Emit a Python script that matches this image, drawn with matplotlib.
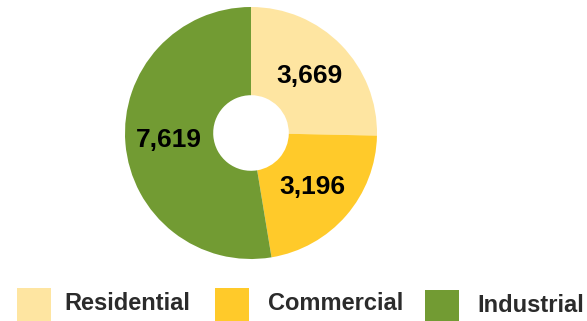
import matplotlib.pyplot as plt
from matplotlib.patches import Rectangle

# Dados do gráfico
categorias = ['Residential', 'Commercial', 'Industrial']
valores = [3669, 3196, 7619]
cores = ['#FEE5A1', '#FFCA2A', '#729B33']

plt.rcParams['font.family'] = ['Liberation Sans', 'DejaVu Sans']

W, H = 587, 321
fig = plt.figure(figsize=(W / 100, H / 100), dpi=100)

# Rosca: centro ~ (251, 133) px, raio ~126 px
cx, cy, r = 251, 133, 126
ax = fig.add_axes([(cx - r) / W, (H - cy - r) / H, 2 * r / W, 2 * r / H])

total = sum(valores)
wedges, textos, rotulos = ax.pie(
    valores, colors=cores, startangle=90, counterclock=False,
    radius=1, wedgeprops=dict(width=0.70, linewidth=0),
    autopct=lambda p: f'{round(p * total / 100):,}', pctdistance=0.65,
    textprops=dict(fontsize=19, fontweight='bold', color='black'))
ax.set_xlim(-1, 1)
ax.set_ylim(-1, 1)
ax.set_aspect('equal')

# Legenda manual embaixo (posições em pixels)
quadrados = [(17, 288), (215, 288), (425, 290)]
textos_x = [64, 268, 477]
bases_y = [310, 310, 312]
for cat, cor, (qx, qy), tx, by in zip(categorias, cores, quadrados, textos_x, bases_y):
    fig.patches.append(Rectangle((qx / W, 1 - (qy + 34) / H), 34 / W, 34 / H,
                                 transform=fig.transFigure, facecolor=cor,
                                 edgecolor='none'))
    fig.text(tx / W, 1 - by / H, cat, fontsize=17, fontweight='bold',
             color='#2b2b2b', va='baseline', ha='left')

plt.savefig('out.png', dpi=100)
plt.close()
